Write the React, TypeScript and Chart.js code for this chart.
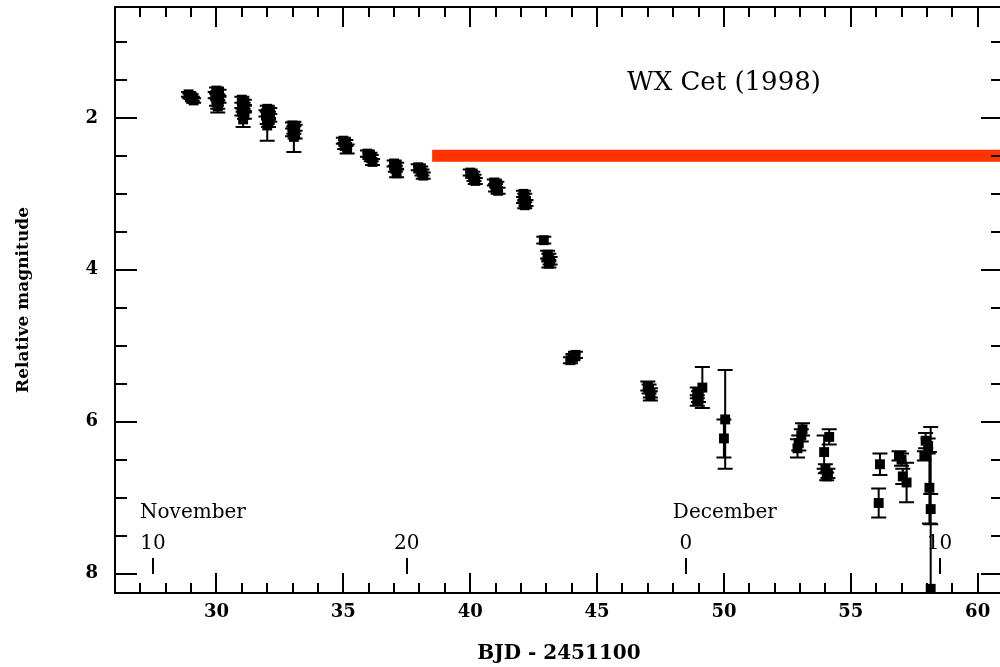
import React, { useEffect, useRef } from 'react';
import { Chart, registerables } from 'chart.js';

Chart.register(...registerables);

// WX Cet 1998 superoutburst light curve: BJD - 2451100, relative magnitude, 1-sigma error
const bjd = [
  28.9, 29.0, 29.05, 28.95, 29.1,
  30.0, 30.1, 29.95, 30.05, 30.1, 30.0, 30.05, 30.05,
  31.0, 31.1, 31.05, 31.1, 31.0, 31.1, 31.05,
  32.0, 32.1, 31.95, 32.05, 32.1, 32.0, 32.05, 32.0,
  33.0, 33.1, 33.05, 33.0, 33.1, 33.05,
  35.0, 35.1, 35.05, 35.15,
  35.95, 36.05, 36.1, 36.15,
  37.0, 37.1, 37.05, 37.1,
  37.95, 38.05, 38.1, 38.15,
  40.0, 40.1, 40.15, 40.2,
  40.95, 41.05, 41.0, 41.1,
  42.1, 42.15, 42.1, 42.2, 42.15,
  42.9,
  43.05, 43.1, 43.15, 43.1,
  44.15, 44.05, 43.95,
  47.0, 47.05, 47.1, 47.1,
  48.95, 49.0, 48.95, 49.15,
  50.05, 50.0,
  53.1, 53.05, 52.95, 52.9,
  54.15, 53.95, 54.0, 54.1, 54.05,
  56.15, 56.1,
  56.9, 57.0, 57.05, 57.2,
  57.95, 57.9, 58.05, 58.1, 58.15, 58.15,
];

const mag = [
  1.69, 1.72, 1.75, 1.71, 1.77,
  1.64, 1.67, 1.7, 1.73, 1.76, 1.79, 1.82, 1.85,
  1.76, 1.8, 1.84, 1.88, 1.92, 1.96, 2.02,
  1.88, 1.91, 1.94, 1.97, 2.0, 2.03, 2.06, 2.1,
  2.1, 2.13, 2.16, 2.19, 2.22, 2.25,
  2.3, 2.33, 2.37, 2.41,
  2.47, 2.5, 2.53, 2.58,
  2.6, 2.63, 2.67, 2.73,
  2.65, 2.68, 2.72, 2.76,
  2.72, 2.75, 2.79, 2.83,
  2.85, 2.88, 2.92, 2.96,
  3.0, 3.04, 3.08, 3.12, 3.15,
  3.61,
  3.8, 3.84, 3.88, 3.92,
  5.12, 5.15, 5.19,
  5.53, 5.57, 5.62, 5.66,
  5.62, 5.67, 5.72, 5.55,
  5.97, 6.22,
  6.1, 6.18, 6.28, 6.35,
  6.2, 6.4, 6.62, 6.68, 6.72,
  6.56, 7.07,
  6.45, 6.5, 6.72, 6.8,
  6.25, 6.45, 6.32, 6.87, 7.15, 8.2,
];

const magErr = [
  0.03, 0.03, 0.03, 0.03, 0.03,
  0.04, 0.04, 0.04, 0.04, 0.04, 0.05, 0.06, 0.08,
  0.04, 0.04, 0.04, 0.05, 0.05, 0.05, 0.1,
  0.04, 0.04, 0.04, 0.05, 0.05, 0.05, 0.06, 0.2,
  0.04, 0.04, 0.05, 0.05, 0.05, 0.2,
  0.04, 0.04, 0.04, 0.06,
  0.04, 0.04, 0.04, 0.04,
  0.04, 0.04, 0.04, 0.05,
  0.04, 0.04, 0.04, 0.04,
  0.04, 0.04, 0.04, 0.04,
  0.04, 0.04, 0.05, 0.04,
  0.04, 0.04, 0.04, 0.04, 0.04,
  0.045,
  0.05, 0.05, 0.05, 0.05,
  0.04, 0.04, 0.04,
  0.06, 0.06, 0.06, 0.06,
  0.07, 0.07, 0.07, 0.27,
  0.65, 0.25,
  0.08, 0.08, 0.1, 0.12,
  0.1, 0.22, 0.06, 0.06, 0.05,
  0.14, 0.19,
  0.06, 0.08, 0.1, 0.26,
  0.1, 0.06, 0.1, 0.47, 0.2, 2.13,
];

// plateau level marked in red
const plateauBjd = [38.5, 61];
const plateauMag = [2.5, 2.5];

// axis ticks
const xTickValues = [30, 35, 40, 45, 50, 55, 60];
const yTickValues = [2, 4, 6, 8];

// calendar scale (day of month)
const dayTickBjd = [27.5, 37.5, 48.5, 58.5];
const dayTickLabels = ['10', '20', '0', '10'];
const monthLabels = ['November', '', 'December', ''];

const titleText = 'WX Cet (1998)';

const SERIF = '"DejaVu Serif", "Liberation Serif", serif';

const errorBarPlugin = {
  id: 'errorBars',
  afterDatasetsDraw(chart: any) {
    const { ctx, chartArea: a, scales } = chart;
    const xs = scales.x;
    const ys = scales.y;
    ctx.save();
    ctx.beginPath();
    ctx.rect(a.left, a.top, a.right - a.left, a.bottom - a.top);
    ctx.clip();
    ctx.strokeStyle = '#000';
    ctx.lineWidth = 2;
    ctx.beginPath();
    for (let i = 0; i < bjd.length; i++) {
      const px = xs.getPixelForValue(bjd[i]);
      const y1 = ys.getPixelForValue(mag[i] - magErr[i]);
      const y2 = ys.getPixelForValue(mag[i] + magErr[i]);
      ctx.moveTo(px, y1);
      ctx.lineTo(px, y2);
      ctx.moveTo(px - 7.5, y1);
      ctx.lineTo(px + 7.5, y1);
      ctx.moveTo(px - 7.5, y2);
      ctx.lineTo(px + 7.5, y2);
    }
    ctx.stroke();
    ctx.restore();
  },
};

const framePlugin = {
  id: 'frameTicks',
  afterDraw(chart: any) {
    const { ctx, chartArea: a, scales } = chart;
    const xs = scales.x;
    const ys = scales.y;
    ctx.save();
    ctx.strokeStyle = '#000';
    ctx.lineWidth = 2;
    ctx.lineCap = 'square';
    ctx.beginPath();
    ctx.rect(a.left, a.top, a.right - a.left, a.bottom - a.top);
    ctx.stroke();

    ctx.lineCap = 'butt';
    ctx.beginPath();
    // inward ticks on bottom and top
    for (let v = Math.ceil(xs.min); v <= xs.max; v++) {
      const px = Math.round(xs.getPixelForValue(v));
      const len = v % 5 === 0 ? 20 : 10;
      ctx.moveTo(px, a.bottom);
      ctx.lineTo(px, a.bottom - len);
      ctx.moveTo(px, a.top);
      ctx.lineTo(px, a.top + len);
    }
    // inward ticks on left and right
    for (let v = Math.ceil(ys.min * 2) / 2; v <= ys.max; v += 0.5) {
      const py = Math.round(ys.getPixelForValue(v));
      const len = v % 2 === 0 ? 22 : 12;
      ctx.moveTo(a.left, py);
      ctx.lineTo(a.left + len, py);
      ctx.moveTo(a.right, py);
      ctx.lineTo(a.right - len, py);
    }
    // calendar day ticks
    for (let i = 0; i < dayTickBjd.length; i++) {
      const px = Math.round(xs.getPixelForValue(dayTickBjd[i]));
      ctx.moveTo(px, a.bottom - 35);
      ctx.lineTo(px, a.bottom - 19);
    }
    ctx.stroke();

    ctx.fillStyle = '#000';
    ctx.textBaseline = 'middle';
    ctx.font = `20px ${SERIF}`;
    for (let i = 0; i < dayTickBjd.length; i++) {
      const px = xs.getPixelForValue(dayTickBjd[i]);
      ctx.textAlign = 'center';
      ctx.fillText(dayTickLabels[i], px, a.bottom - 49);
      if (monthLabels[i]) {
        ctx.textAlign = 'left';
        ctx.fillText(monthLabels[i], px - 13, a.bottom - 80);
      }
    }

    ctx.font = `26px ${SERIF}`;
    ctx.textAlign = 'center';
    ctx.fillText(titleText, xs.getPixelForValue(50), ys.getPixelForValue(1.55));
    ctx.restore();
  },
};

export default function App() {
  const canvasRef = useRef<HTMLCanvasElement | null>(null);

  useEffect(() => {
    const canvas = canvasRef.current;
    if (!canvas) return;
    const points = bjd.map((x, i) => ({ x, y: mag[i] }));
    const plateau = plateauBjd.map((x, i) => ({ x, y: plateauMag[i] }));

    const chart = new Chart(canvas, {
      type: 'scatter',
      data: {
        datasets: [
          {
            type: 'line',
            label: 'plateau',
            data: plateau,
            borderColor: 'rgb(255, 51, 0)',
            borderWidth: 12,
            borderCapStyle: 'butt',
            pointRadius: 0,
            showLine: true,
            fill: false,
          } as any,
          {
            label: 'WX Cet',
            data: points,
            pointStyle: 'rect',
            pointRadius: 7,
            pointBackgroundColor: '#000',
            pointBorderWidth: 0,
            borderColor: '#000',
            backgroundColor: '#000',
          },
        ],
      },
      options: {
        animation: false,
        responsive: false,
        devicePixelRatio: 1,
        events: [],
        layout: { padding: { top: 7, right: 6, bottom: 0, left: 0 } },
        plugins: {
          legend: { display: false },
          tooltip: { enabled: false },
          title: { display: false },
        },
        scales: {
          x: {
            type: 'linear',
            min: 26,
            max: 61,
            grid: { display: false, drawTicks: false },
            border: { display: false },
            ticks: {
              color: '#000',
              padding: 9,
              maxRotation: 0,
              font: { family: SERIF, size: 18, weight: 'bold' },
            },
            afterBuildTicks: (scale: any) => {
              scale.ticks = xTickValues.map((value) => ({ value }));
            },
            afterFit: (scale: any) => {
              scale.height = 74;
              scale.paddingLeft = 0;
              scale.paddingRight = 0;
            },
            title: {
              display: true,
              text: 'BJD - 2451100',
              color: '#000',
              padding: { top: 0, bottom: 1 },
              font: { family: SERIF, size: 20, weight: 'bold' },
            },
          },
          y: {
            type: 'linear',
            reverse: true,
            min: 0.54,
            max: 8.255,
            grid: { display: false, drawTicks: false },
            border: { display: false },
            ticks: {
              color: '#000',
              padding: 17,
              font: { family: SERIF, size: 18, weight: 'bold' },
            },
            afterBuildTicks: (scale: any) => {
              scale.ticks = yTickValues.map((value) => ({ value }));
            },
            afterFit: (scale: any) => {
              scale.width = 115;
              scale.paddingTop = 0;
              scale.paddingBottom = 0;
            },
            title: {
              display: true,
              text: 'Relative magnitude',
              color: '#000',
              padding: { top: 13, bottom: 0 },
              font: { family: SERIF, size: 17, weight: 'bold' },
            },
          },
        },
      },
      plugins: [errorBarPlugin, framePlugin],
    });

    return () => chart.destroy();
  }, []);

  return (
    <div
      style={{
        position: 'fixed',
        left: 0,
        top: 0,
        width: 1000,
        height: 667,
        overflow: 'hidden',
        background: '#fff',
      }}
    >
      <canvas
        ref={canvasRef}
        width={1010}
        height={667}
        style={{ display: 'block', width: 1010, height: 667 }}
      />
    </div>
  );
}
